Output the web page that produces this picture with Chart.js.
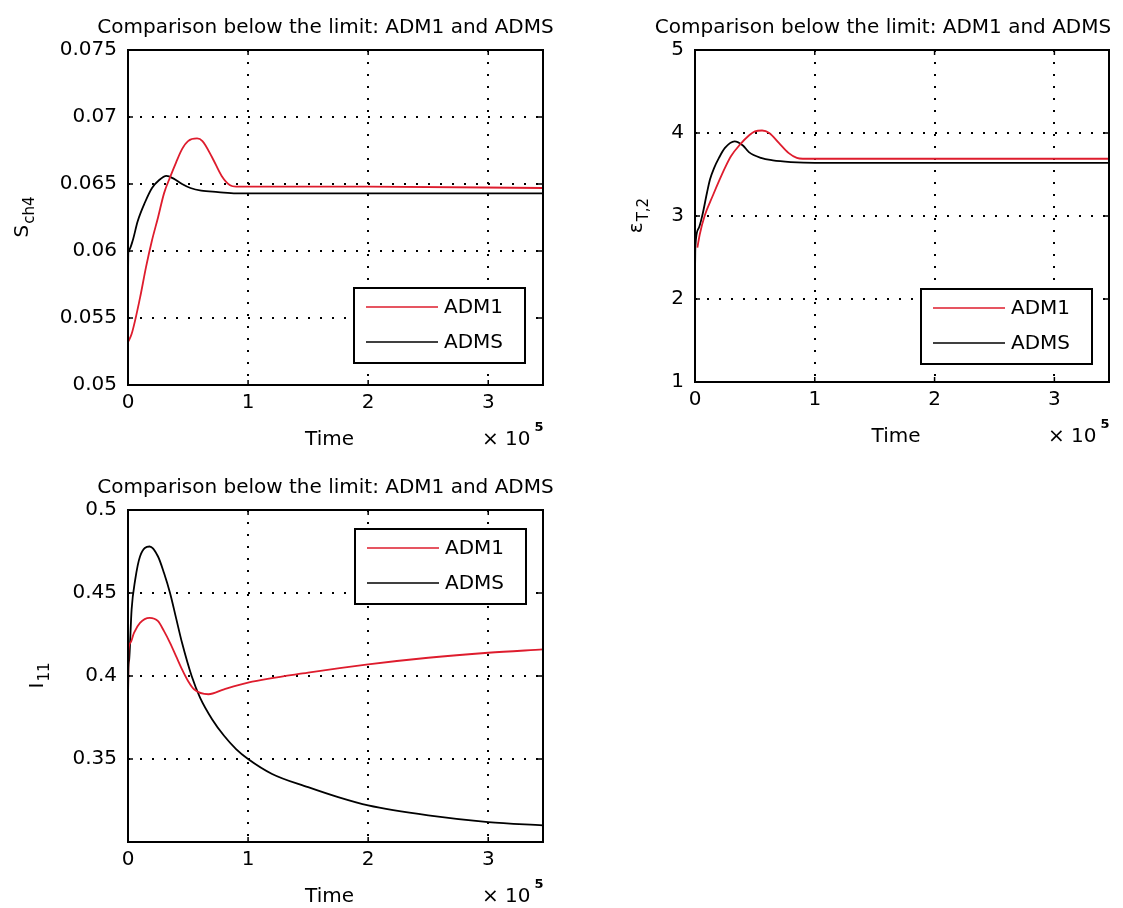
<!DOCTYPE html>
<html>
<head>
<meta charset="utf-8">
<script src="https://cdn.jsdelivr.net/npm/chart.js@4.4.0/dist/chart.umd.min.js"></script>
<style>
  body { margin: 0; background: #fff; }
  .panel { position: absolute; }
</style>
</head>
<body>
<div class="panel" style="left:0;top:0"><canvas id="c1" width="560" height="460"></canvas></div>
<div class="panel" style="left:560px;top:0"><canvas id="c2" width="563" height="460"></canvas></div>
<div class="panel" style="left:0;top:460px"><canvas id="c3" width="560" height="448"></canvas></div>
<script>
// time axis in units of 1e5 s
var tMax = 3.456;
var xTicks = [0, 1, 2, 3];
var seriesNames = ['ADM1', 'ADMS'];

// S_ch4
var sch4Ticks = [0.05, 0.055, 0.06, 0.065, 0.07, 0.075];
var sch4Adm1T = [0, 0.03, 0.1, 0.15, 0.2, 0.25, 0.3, 0.35, 0.4, 0.45, 0.5, 0.575, 0.62, 0.7, 0.78, 0.85, 0.9, 1.0, 2.0, 3.456];
var sch4Adm1V = [0.0532, 0.0538, 0.0565, 0.0588, 0.0608, 0.0625, 0.0643, 0.0655, 0.0666, 0.0676, 0.0682, 0.0684, 0.0682, 0.0670, 0.0656, 0.0649, 0.0648, 0.0648, 0.0648, 0.0647];
var sch4AdmsT = [0, 0.002, 0.01, 0.04, 0.08, 0.14, 0.2, 0.26, 0.32, 0.38, 0.45, 0.52, 0.61, 0.75, 0.9, 1.2, 2.0, 3.456];
var sch4AdmsV = [0.0578, 0.0598, 0.0601, 0.0608, 0.0622, 0.0636, 0.0647, 0.0653, 0.0656, 0.0654, 0.0650, 0.0647, 0.0645, 0.0644, 0.0643, 0.0643, 0.0643, 0.0643];

// eps_T,2
var epsTicks = [1, 2, 3, 4, 5];
var epsAdm1T = [0.02, 0.04, 0.08, 0.15, 0.2, 0.25, 0.3, 0.375, 0.45, 0.5, 0.56, 0.62, 0.7, 0.78, 0.85, 0.9, 1.2, 2.0, 3.456];
var epsAdm1V = [2.62, 2.78, 3.0, 3.25, 3.42, 3.58, 3.72, 3.86, 3.97, 4.02, 4.03, 4.00, 3.88, 3.76, 3.70, 3.69, 3.69, 3.69, 3.69];
var epsAdmsT = [0, 0.003, 0.03, 0.06, 0.1, 0.125, 0.16, 0.2, 0.25, 0.33, 0.4, 0.45, 0.55, 0.65, 0.8, 1.0, 2.0, 3.456];
var epsAdmsV = [2.3, 2.63, 2.85, 3.0, 3.28, 3.44, 3.58, 3.70, 3.82, 3.90, 3.85, 3.77, 3.70, 3.67, 3.65, 3.64, 3.64, 3.64];

// I_11
var i11Ticks = [0.35, 0.4, 0.45, 0.5];
var i11Adm1T = [0, 0.004, 0.02, 0.05, 0.1, 0.18, 0.25, 0.3, 0.35, 0.4, 0.45, 0.5, 0.55, 0.67, 0.8, 1.0, 1.5, 2.0, 2.5, 3.0, 3.456];
var i11Adm1V = [0.38, 0.415, 0.42, 0.426, 0.432, 0.435, 0.433, 0.427, 0.42, 0.412, 0.404, 0.397, 0.392, 0.389, 0.392, 0.396, 0.402, 0.407, 0.411, 0.414, 0.416];
var i11AdmsT = [0, 0.003, 0.01, 0.03, 0.06, 0.1, 0.18, 0.25, 0.3, 0.35, 0.4, 0.45, 0.53, 0.6, 0.7, 0.8, 0.9, 1.0, 1.2, 1.5, 1.75, 2.0, 2.5, 3.0, 3.456];
var i11AdmsV = [0.386, 0.404, 0.41, 0.44, 0.458, 0.472, 0.478, 0.472, 0.462, 0.45, 0.435, 0.42, 0.40, 0.387, 0.374, 0.364, 0.356, 0.350, 0.341, 0.333, 0.327, 0.322, 0.316, 0.312, 0.310];

var FONT = '"DejaVu Sans", sans-serif';
var RED = 'rgb(222,28,45)';
Chart.defaults.font.family = FONT;
Chart.defaults.font.size = 20;
Chart.defaults.color = '#000';

function toXY(t, v) {
    return t.map(function(x, i) { return { x: x, y: v[i] }; });
}

// box round the axes plus the inward tick marks on all four sides
var axesBox = {
    id: 'axesBox',
    afterDatasetsDraw: function(chart) {
        var a = chart.chartArea, ctx = chart.ctx;
        var sx = chart.scales.x, sy = chart.scales.y;
        ctx.save();
        ctx.strokeStyle = '#000';
        ctx.lineWidth = 1.5;
        ctx.beginPath();
        sx.ticks.forEach(function(t) {
            var px = sx.getPixelForValue(t.value);
            ctx.moveTo(px, a.bottom); ctx.lineTo(px, a.bottom - 5);
            ctx.moveTo(px, a.top); ctx.lineTo(px, a.top + 5);
        });
        sy.ticks.forEach(function(t) {
            var py = sy.getPixelForValue(t.value);
            ctx.moveTo(a.left, py); ctx.lineTo(a.left + 5, py);
            ctx.moveTo(a.right, py); ctx.lineTo(a.right - 5, py);
        });
        ctx.stroke();
        ctx.lineWidth = 2;
        ctx.strokeRect(a.left, a.top, a.right - a.left, a.bottom - a.top);
        ctx.restore();
    }
};

// framed legend anchored to a corner of the axes
var boxLegend = {
    id: 'boxLegend',
    afterDraw: function(chart, args, o) {
        var a = chart.chartArea, ctx = chart.ctx;
        var left = a.right - o.dx - o.w;
        var top = o.fromTop ? a.top + o.dy : a.bottom - o.dy - o.h;
        ctx.save();
        ctx.fillStyle = '#fff';
        ctx.fillRect(left, top, o.w, o.h);
        ctx.strokeStyle = '#000';
        ctx.lineWidth = 2;
        ctx.strokeRect(left, top, o.w, o.h);
        ctx.font = '20px ' + FONT;
        ctx.textBaseline = 'middle';
        chart.data.datasets.forEach(function(ds, i) {
            var y = top + 19 + i * 35;
            ctx.strokeStyle = ds.borderColor;
            ctx.lineWidth = 1.6;
            ctx.beginPath();
            ctx.moveTo(left + 12, y);
            ctx.lineTo(left + 84, y);
            ctx.stroke();
            ctx.fillStyle = '#000';
            ctx.fillText(ds.label, left + 90, y + 1);
        });
        ctx.restore();
    }
};

// title, axis labels and the x10^5 multiplier
var axisText = {
    id: 'axisText',
    afterDraw: function(chart, args, o) {
        var a = chart.chartArea, ctx = chart.ctx;
        var cx = (a.left + a.right) / 2;
        ctx.save();
        ctx.fillStyle = '#000';
        ctx.textBaseline = 'alphabetic';
        ctx.font = '20px ' + FONT;
        ctx.textAlign = 'center';
        ctx.fillText(o.title, cx + o.titleShift, a.top - 17);
        ctx.fillText('Time', cx - 6, a.bottom + 60);

        ctx.textAlign = 'left';
        var mx = a.right - 61;
        ctx.fillText('\u00d7 10', mx, a.bottom + 60);
        var mw = ctx.measureText('\u00d7 10').width;
        ctx.font = 'bold 13px ' + FONT;
        ctx.fillText('5', mx + mw + 4, a.bottom + 46);

        // rotated y label with subscript
        var cy = (a.top + a.bottom) / 2;
        ctx.translate(o.yLabelX, cy);
        ctx.rotate(-Math.PI / 2);
        ctx.font = '20px ' + FONT;
        var w1 = ctx.measureText(o.yMain).width;
        ctx.font = '15px ' + FONT;
        var w2 = ctx.measureText(o.ySub).width;
        var x0 = -(w1 + w2) / 2;
        ctx.font = '20px ' + FONT;
        ctx.fillText(o.yMain, x0, 0);
        ctx.font = '15px ' + FONT;
        ctx.fillText(o.ySub, x0 + w1 + 1, 6);
        ctx.restore();
    }
};

function makeChart(id, p) {
    return new Chart(document.getElementById(id), {
        type: 'line',
        data: {
            datasets: [
                { label: seriesNames[0], data: toXY(p.adm1T, p.adm1V), borderColor: RED },
                { label: seriesNames[1], data: toXY(p.admsT, p.admsV), borderColor: '#000' }
            ]
        },
        options: {
            responsive: false,
            animation: false,
            layout: { padding: { left: 0, top: p.top, right: p.right, bottom: 0 } },
            elements: {
                point: { radius: 0 },
                line: { borderWidth: 1.8, cubicInterpolationMode: 'monotone' }
            },
            plugins: {
                legend: { display: false },
                tooltip: { enabled: false },
                boxLegend: p.legend,
                axisText: p.text
            },
            scales: {
                x: {
                    type: 'linear',
                    min: 0,
                    max: tMax,
                    afterBuildTicks: function(s) { s.ticks = xTicks.map(function(v) { return { value: v }; }); },
                    afterFit: function(s) { s.height = p.xh; },
                    grid: { color: '#000', lineWidth: 2, drawTicks: false },
                    border: { display: false, dash: [2, 10] },
                    ticks: { padding: 6, maxRotation: 0, callback: function(v) { return String(v); } }
                },
                y: {
                    min: p.yMin,
                    max: p.yTicks[p.yTicks.length - 1],
                    afterBuildTicks: function(s) { s.ticks = p.yTicks.map(function(v) { return { value: v }; }); },
                    afterFit: function(s) { s.width = p.left; },
                    grid: { color: '#000', lineWidth: 2, drawTicks: false },
                    border: { display: false, dash: [2, 10] },
                    ticks: { padding: 11, callback: function(v) { return String(v); } }
                }
            }
        },
        plugins: [axesBox, boxLegend, axisText]
    });
}

var title = 'Comparison below the limit: ADM1 and ADMS';

makeChart('c1', {
    adm1T: sch4Adm1T, adm1V: sch4Adm1V, admsT: sch4AdmsT, admsV: sch4AdmsV,
    yTicks: sch4Ticks, yMin: 0.05, top: 50, right: 17, left: 128, xh: 75,
    legend: { dx: 18, dy: 22, w: 171, h: 75 },
    text: { title: title, titleShift: -10, yMain: 'S', ySub: 'ch4', yLabelX: 28 }
});

makeChart('c2', {
    adm1T: epsAdm1T, adm1V: epsAdm1V, admsT: epsAdmsT, admsV: epsAdmsV,
    yTicks: epsTicks, yMin: 1, top: 50, right: 14, left: 135, xh: 78,
    legend: { dx: 17, dy: 18, w: 171, h: 75 },
    text: { title: title, titleShift: -19, yMain: '\u03b5', ySub: 'T,2', yLabelX: 82 }
});

makeChart('c3', {
    adm1T: i11Adm1T, adm1V: i11Adm1V, admsT: i11AdmsT, admsV: i11AdmsV,
    yTicks: i11Ticks, yMin: 0.3, top: 50, right: 17, left: 128, xh: 66,
    legend: { dx: 17, dy: 19, w: 171, h: 75, fromTop: true },
    text: { title: title, titleShift: -10, yMain: 'I', ySub: '11', yLabelX: 43 }
});
</script>
</body>
</html>
